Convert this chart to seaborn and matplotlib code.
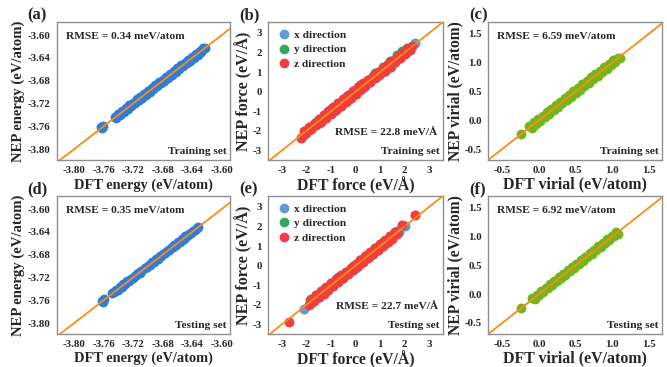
import pandas as pd
import matplotlib
matplotlib.use('Agg')
import matplotlib.pyplot as plt
import seaborn as sns
from matplotlib.lines import Line2D

# energy, training set (eV/atom)
e_tr_dft = [-3.7628, -3.7618, -3.7608, -3.7450, -3.7425, -3.7400, -3.7375, -3.7350, -3.7325, -3.7300,
            -3.7275, -3.7250, -3.7225, -3.7200, -3.7175, -3.7150, -3.7125, -3.7100, -3.7075, -3.7050,
            -3.7025, -3.7000, -3.6975, -3.6950, -3.6925, -3.6900, -3.6875, -3.6850, -3.6825, -3.6800,
            -3.6775, -3.6750, -3.6725, -3.6700, -3.6675, -3.6650, -3.6625, -3.6600, -3.6575, -3.6550,
            -3.6525, -3.6500, -3.6475, -3.6450, -3.6425, -3.6400, -3.6375, -3.6350, -3.6325, -3.6300,
            -3.6275, -3.6250, -3.6225]
e_tr_nep = [-3.7610, -3.7632, -3.7598, -3.7428, -3.7445, -3.7385, -3.7398, -3.7330, -3.7348, -3.7282,
            -3.7296, -3.7228, -3.7248, -3.7182, -3.7195, -3.7128, -3.7146, -3.7082, -3.7096, -3.7028,
            -3.7046, -3.6980, -3.6996, -3.6928, -3.6948, -3.6882, -3.6896, -3.6828, -3.6846, -3.6780,
            -3.6796, -3.6728, -3.6748, -3.6682, -3.6696, -3.6628, -3.6646, -3.6580, -3.6596, -3.6528,
            -3.6548, -3.6482, -3.6496, -3.6428, -3.6446, -3.6380, -3.6396, -3.6328, -3.6346, -3.6282,
            -3.6296, -3.6232, -3.6222]

# energy, testing set
e_te_dft = [-3.7625, -3.7610, -3.7595, -3.7480, -3.7455, -3.7430, -3.7405, -3.7380, -3.7355, -3.7330,
            -3.7305, -3.7280, -3.7255, -3.7230, -3.7205, -3.7180, -3.7155, -3.7130, -3.7105, -3.7090,
            -3.7040, -3.7015, -3.6990, -3.6965, -3.6940, -3.6915, -3.6890, -3.6865, -3.6840, -3.6815,
            -3.6790, -3.6765, -3.6740, -3.6715, -3.6690, -3.6665, -3.6640, -3.6615, -3.6590, -3.6565,
            -3.6540, -3.6515, -3.6490, -3.6465, -3.6440, -3.6415, -3.6390, -3.6365, -3.6340, -3.6320]
e_te_nep = [-3.7610, -3.7622, -3.7585, -3.7468, -3.7462, -3.7418, -3.7412, -3.7368, -3.7362, -3.7318,
            -3.7312, -3.7268, -3.7262, -3.7218, -3.7212, -3.7168, -3.7162, -3.7118, -3.7112, -3.7082,
            -3.7030, -3.7022, -3.6980, -3.6972, -3.6930, -3.6922, -3.6880, -3.6872, -3.6830, -3.6822,
            -3.6780, -3.6772, -3.6730, -3.6722, -3.6680, -3.6672, -3.6630, -3.6622, -3.6580, -3.6572,
            -3.6530, -3.6522, -3.6480, -3.6472, -3.6430, -3.6422, -3.6380, -3.6372, -3.6330, -3.6312]

# force, training set (eV/A)
fx_tr_dft = [-2.10, -1.80, -1.50, -1.20, -0.90, -0.60, -0.30, 0.00, 0.30, 0.60, 0.90, 1.20, 1.45, 1.80, 2.10, 2.40]
fx_tr_nep = [-2.22, -1.92, -1.60, -1.30, -1.02, -0.72, -0.40, -0.12, 0.18, 0.50, 0.78, 1.08, 1.25, 1.70, 2.00, 2.50]
fy_tr_dft = [-2.05, -1.90, -1.60, -1.30, -1.00, -0.70, -0.40, -0.10, 0.20, 0.50, 0.80, 1.10, 1.40, 1.70, 1.90, 2.10]
fy_tr_nep = [-2.00, -1.95, -1.52, -1.20, -0.90, -0.58, -0.28, 0.02, 0.32, 0.62, 0.94, 1.24, 1.55, 1.85, 2.05, 2.22]
fz_tr_dft = [-2.20, -2.10, -2.00, -1.90, -1.80, -1.70, -1.60, -1.50, -1.40, -1.30, -1.20, -1.10, -1.00, -0.90,
             -0.80, -0.70, -0.60, -0.50, -0.40, -0.30, -0.20, -0.10, 0.00, 0.10, 0.20, 0.30, 0.40, 0.50,
             0.60, 0.70, 0.80, 0.90, 1.00, 1.10, 1.20, 1.30, 1.40, 1.50, 1.60, 1.70, 1.80, 1.90, 2.00,
             2.10, 2.20, 2.30]
fz_tr_nep = [-2.38, -2.00, -2.10, -1.80, -1.92, -1.62, -1.70, -1.40, -1.52, -1.20, -1.32, -1.00, -1.12, -0.80,
             -0.92, -0.60, -0.72, -0.38, -0.52, -0.18, -0.32, 0.02, -0.12, 0.22, 0.08, 0.42, 0.28, 0.62,
             0.48, 0.82, 0.68, 1.02, 0.88, 1.20, 1.08, 1.40, 1.28, 1.58, 1.50, 1.78, 1.70, 1.98, 1.92,
             2.18, 2.12, 2.34]

# force, testing set
fx_te_dft = [-2.10, -1.80, -1.50, -1.20, -0.90, -0.60, -0.30, 0.00, 0.30, 0.60, 0.90, 1.20, 1.50, 1.75, 2.00]
fx_te_nep = [-2.22, -1.90, -1.58, -1.30, -1.00, -0.70, -0.40, -0.10, 0.20, 0.50, 0.80, 1.10, 1.42, 1.70, 2.02]
fy_te_dft = [-1.85, -1.60, -1.30, -1.00, -0.70, -0.40, -0.10, 0.20, 0.50, 0.80, 1.10, 1.40, 1.60, 1.70]
fy_te_nep = [-1.75, -1.50, -1.20, -0.90, -0.60, -0.30, 0.00, 0.30, 0.60, 0.90, 1.20, 1.50, 1.72, 1.78]
fz_te_dft = [-2.70, -1.90, -1.80, -1.70, -1.60, -1.50, -1.40, -1.30, -1.20, -1.10, -1.00, -0.90, -0.80, -0.70,
             -0.60, -0.50, -0.40, -0.30, -0.20, -0.10, 0.00, 0.10, 0.20, 0.30, 0.40, 0.50, 0.60, 0.70,
             0.80, 0.90, 1.00, 1.10, 1.20, 1.30, 1.40, 1.50, 1.60, 1.70, 1.90, 2.40]
fz_te_nep = [-2.88, -2.00, -1.70, -1.82, -1.50, -1.62, -1.30, -1.42, -1.10, -1.22, -0.90, -1.02, -0.70, -0.82,
             -0.50, -0.62, -0.30, -0.42, -0.10, -0.22, 0.10, -0.02, 0.30, 0.18, 0.50, 0.38, 0.70, 0.58,
             0.90, 0.78, 1.10, 0.98, 1.30, 1.18, 1.50, 1.38, 1.70, 1.60, 2.05, 2.60]

# virial, training set (eV/atom)
v_tr_dft = [-0.25, -0.13, -0.10, -0.07, -0.04, -0.01, 0.02, 0.05, 0.08, 0.11, 0.14, 0.17, 0.20, 0.23, 0.26,
            0.29, 0.32, 0.35, 0.38, 0.41, 0.44, 0.47, 0.50, 0.53, 0.56, 0.59, 0.62, 0.65, 0.68, 0.71, 0.74,
            0.77, 0.80, 0.83, 0.86, 0.89, 0.92, 0.95, 0.98, 1.01, 1.04, 1.07, 1.10]
v_tr_nep = [-0.24, -0.10, -0.13, -0.04, -0.07, 0.02, -0.01, 0.08, 0.05, 0.14, 0.11, 0.20, 0.17, 0.26, 0.23,
            0.32, 0.29, 0.38, 0.35, 0.44, 0.41, 0.50, 0.47, 0.56, 0.53, 0.62, 0.59, 0.68, 0.65, 0.74, 0.71,
            0.80, 0.77, 0.86, 0.83, 0.92, 0.89, 0.98, 0.95, 1.04, 1.01, 1.08, 1.07]

# virial, testing set
v_te_dft = [-0.25, -0.09, -0.06, -0.03, 0.00, 0.03, 0.06, 0.09, 0.12, 0.15, 0.18, 0.21, 0.24, 0.27, 0.30,
            0.33, 0.36, 0.39, 0.42, 0.45, 0.48, 0.51, 0.54, 0.57, 0.60, 0.63, 0.66, 0.69, 0.72, 0.75, 0.78,
            0.81, 0.84, 0.87, 0.90, 0.93, 0.96, 0.99, 1.02, 1.05, 1.08]
v_te_nep = [-0.24, -0.07, -0.08, -0.01, -0.02, 0.05, 0.04, 0.11, 0.10, 0.17, 0.16, 0.23, 0.22, 0.29, 0.28,
            0.35, 0.34, 0.41, 0.40, 0.47, 0.46, 0.53, 0.52, 0.59, 0.58, 0.65, 0.64, 0.71, 0.70, 0.77, 0.76,
            0.83, 0.82, 0.89, 0.88, 0.95, 0.94, 1.01, 1.00, 1.07, 1.05]

rmse_text = ['RMSE = 0.34 meV/atom', 'RMSE = 22.8 meV/Å', 'RMSE = 6.59 meV/atom',
             'RMSE = 0.35 meV/atom', 'RMSE = 22.7 meV/Å', 'RMSE = 6.92 meV/atom']
panel_tags = ['(a)', '(b)', '(c)', '(d)', '(e)', '(f)']
set_names = ['Training set', 'Testing set']

energy_ticks = [-3.80, -3.76, -3.72, -3.68, -3.64, -3.60]
force_ticks = [-3, -2, -1, 0, 1, 2, 3]
virial_ticks = [-0.5, 0.0, 0.5, 1.0, 1.5]

# colors
c_energy = '#2f7dd6'
c_virial = '#72b51c'
c_dir = {'x direction': '#5f9bd6', 'y direction': '#2ea65b', 'z direction': '#f03d3d'}
c_line = '#ff8a14'
c_frame = '#8f8f8f'

sns.set_theme(style='white')
plt.rcParams['font.family'] = ['Liberation Serif', 'DejaVu Serif']
plt.rcParams['font.weight'] = 'bold'
plt.rcParams['axes.unicode_minus'] = False

fig = plt.figure(figsize=(6.67, 3.67), dpi=100)
lefts = [0.0855, 0.402, 0.732]
widths = [0.259, 0.262, 0.261]
bottoms = [0.564, 0.090]
height = 0.376
tag_x = [-0.17, -0.165, -0.11]

tick_fs = 7.8
note_fs = 8.2


def style_ax(ax, xlims, ylims, ticks, fmt):
    ax.set_xlim(xlims)
    ax.set_ylim(ylims)
    lo, hi = min(xlims[0], ylims[0]), max(xlims[1], ylims[1])
    ax.plot([lo, hi], [lo, hi], color=c_line, lw=1.3, zorder=5)
    ax.set_xticks(ticks)
    ax.set_yticks(ticks)
    ax.set_xticklabels([fmt.format(t) for t in ticks], fontsize=tick_fs, fontweight='bold')
    ax.set_yticklabels([fmt.format(t) for t in ticks], fontsize=tick_fs, fontweight='bold')
    ax.tick_params(direction='out', length=2.5, width=0.8, color=c_frame, pad=2)
    for sp in ax.spines.values():
        sp.set_color(c_frame)
        sp.set_linewidth(1.0)


for row in range(2):
    axs = [fig.add_axes([lefts[c], bottoms[row], widths[c], height]) for c in range(3)]
    k = row * 3

    # energy
    ax = axs[0]
    d_e = pd.DataFrame({'dft': [e_tr_dft, e_te_dft][row], 'nep': [e_tr_nep, e_te_nep][row]})
    sns.scatterplot(data=d_e, x='dft', y='nep', ax=ax, color=c_energy, s=50, linewidth=0, zorder=3)
    style_ax(ax, (-3.823, -3.589), (-3.819, -3.577), energy_ticks, '{:.2f}')
    ax.set_xlabel('DFT energy (eV/atom)', fontsize=10.4, fontweight='bold', labelpad=2)
    ax.set_ylabel('NEP energy (eV/atom)', fontsize=10.6, fontweight='bold', labelpad=2)
    ax.text(0.05, 0.93, rmse_text[k], transform=ax.transAxes, fontsize=note_fs, fontweight='bold',
            va='top', ha='left')

    # force
    ax = axs[1]
    fx = [(fx_tr_dft, fx_tr_nep), (fx_te_dft, fx_te_nep)][row]
    fy = [(fy_tr_dft, fy_tr_nep), (fy_te_dft, fy_te_nep)][row]
    fz = [(fz_tr_dft, fz_tr_nep), (fz_te_dft, fz_te_nep)][row]
    d_f = pd.concat([
        pd.DataFrame({'dft': fx[0], 'nep': fx[1], 'dir': 'x direction'}),
        pd.DataFrame({'dft': fy[0], 'nep': fy[1], 'dir': 'y direction'}),
        pd.DataFrame({'dft': fz[0], 'nep': fz[1], 'dir': 'z direction'}),
    ])
    for name in ['x direction', 'y direction', 'z direction']:
        sns.scatterplot(data=d_f[d_f['dir'] == name], x='dft', y='nep', ax=ax, color=c_dir[name],
                        s=52, linewidth=0, zorder=3)
    style_ax(ax, (-3.55, 3.55), (-3.48, 3.55), force_ticks, '{:d}')
    ax.set_xlabel('DFT force (eV/Å)', fontsize=11.3, fontweight='bold', labelpad=1)
    ax.set_ylabel('NEP force (eV/Å)', fontsize=11.6, fontweight='bold', labelpad=0)
    handles = [Line2D([], [], marker='o', ls='', color=c_dir[n], markersize=6) for n in c_dir]
    ax.legend(handles, list(c_dir), loc='upper left', frameon=False,
              handletextpad=0.2, labelspacing=0.4, borderaxespad=0.3, handlelength=1.4,
              prop={'weight': 'bold', 'size': note_fs})
    ax.text(0.97, 0.17, rmse_text[k + 1], transform=ax.transAxes, fontsize=note_fs, fontweight='bold',
            va='bottom', ha='right')

    # virial
    ax = axs[2]
    d_v = pd.DataFrame({'dft': [v_tr_dft, v_te_dft][row], 'nep': [v_tr_nep, v_te_nep][row]})
    sns.scatterplot(data=d_v, x='dft', y='nep', ax=ax, color=c_virial, s=50, linewidth=0, zorder=3)
    style_ax(ax, (-0.69, 1.68), (-0.69, 1.70), virial_ticks, '{:.1f}')
    ax.set_xlabel('DFT virial (eV/atom)', fontsize=11.4, fontweight='bold', labelpad=1)
    ax.set_ylabel('NEP virial (eV/atom)', fontsize=11.2, fontweight='bold', labelpad=1)
    ax.text(0.05, 0.93, rmse_text[k + 2], transform=ax.transAxes, fontsize=note_fs, fontweight='bold',
            va='top', ha='left')

    for c, ax in enumerate(axs):
        ax.text(0.98, 0.03, set_names[row], transform=ax.transAxes, fontsize=note_fs, fontweight='bold',
                va='bottom', ha='right')
        ax.text(tag_x[c], 0.99, panel_tags[k + c], transform=ax.transAxes, fontsize=12, fontweight='bold',
                va='bottom', ha='left')

fig.savefig('out.png', dpi=100)
